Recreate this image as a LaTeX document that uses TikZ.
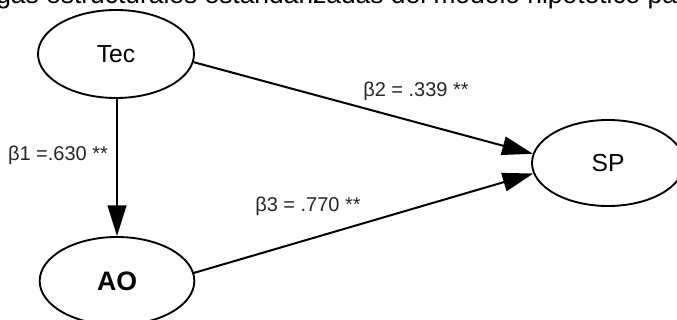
\documentclass[tikz,border=0pt]{standalone}
\usepackage{fontspec}
\setmainfont{Liberation Sans}
\usetikzlibrary{arrows.meta,shapes.geometric}
\begin{document}
\begin{tikzpicture}[x=0.75pt,y=-0.75pt,
  latent/.style={draw, line width=1.4pt, ellipse, inner sep=0pt},
  edgearrow/.style={line width=1.5pt, -{Triangle[length=23pt,width=14pt]}},
  coef/.style={font=\fontsize{15}{17}\selectfont, text=black!85, inner sep=0pt}
]
\useasboundingbox (0,0) rectangle (677,320);
\begin{scope}
\clip (0,0) rectangle (677,320);
\node[anchor=base west, inner sep=0pt, font=\fontsize{19.8}{22}\selectfont] (title) at (-4,4) {gas estructurales estandarizadas del modelo hipotético pa};
\node[latent, minimum width=117pt, minimum height=66pt, font=\fontsize{18.5}{20}\selectfont] (Tec) at (116,54) {Tec};
\node[latent, minimum width=116pt, minimum height=66pt, font=\fontsize{20}{22}\bfseries] (AO) at (117,281) {AO};
\node[latent, minimum width=114pt, minimum height=64.5pt, font=\fontsize{18.5}{20}\selectfont] (SP) at (608,163) {SP};
\draw[edgearrow] (Tec.south -| AO.north) -- (AO.north);
\draw[edgearrow] (Tec.-6) -- (SP.173);
\draw[edgearrow] (AO.6) -- (SP.188);
\node[coef] (b1) at (58,155) {β1 =.630 **};
\node[coef] (b2) at (416,91) {β2 = .339 **};
\node[coef] (b3) at (308,206) {β3 = .770 **};
\end{scope}
\end{tikzpicture}
\end{document}
